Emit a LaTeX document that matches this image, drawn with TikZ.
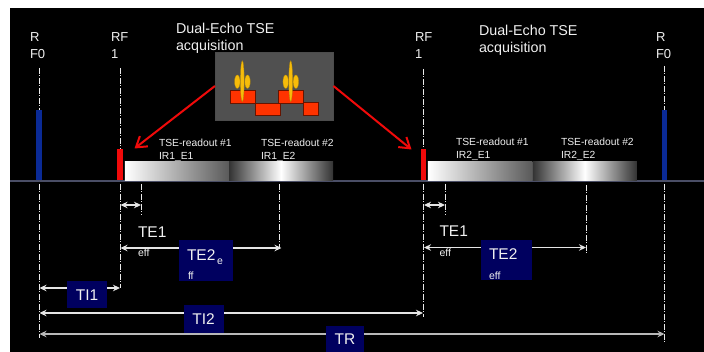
\documentclass[tikz,border=0pt]{standalone}
\usepackage{fontspec}
\setmainfont{Liberation Sans}
\usetikzlibrary{arrows.meta,shapes.geometric}
\definecolor{navy}{HTML}{00005F}
\definecolor{axisc}{HTML}{4A4E66}
\definecolor{barblue}{HTML}{0A2A96}
\definecolor{barred}{HTML}{F00A0A}
\definecolor{seqred}{HTML}{FF3300}
\definecolor{seqyel}{HTML}{F7BC0A}
\definecolor{panel}{HTML}{505050}
\definecolor{txt}{HTML}{F0F0F0}
\tikzset{
  every node/.style={inner sep=0pt,outer sep=0pt},
  rflabel/.style={text=txt,anchor=north west,align=left,font=\fontsize{13}{16.5}\selectfont},
  headlabel/.style={text=txt,anchor=north west,align=left,font=\fontsize{14.3}{17}\selectfont},
  readlabel/.style={text=txt,anchor=north west,align=left,font=\fontsize{10.3}{13}\selectfont},
  bigte/.style={text=txt,anchor=west,font=\fontsize{15.5}{16}\selectfont},
  small/.style={text=txt,anchor=west,font=\fontsize{10.5}{10}\selectfont},
  navybox/.style={fill=navy,text=txt,font=\fontsize{15.5}{16}\selectfont},
  ddline/.style={white!92!black,line width=0.7pt,dash pattern=on 6pt off 1.5pt on 1pt off 1.5pt},
  span/.style={white!90!black,line width=1.2pt,{Stealth[length=7pt,width=6.5pt]}-{Stealth[length=7pt,width=6.5pt]}},
  spangray/.style={span,white!72!black},
  redarrow/.style={draw=barred,line width=2pt,-{Straight Barb[length=10pt,width=13pt,line width=2pt]}},
  bar/.style={minimum width=5.5pt},
  seqblock/.style={fill=seqred,draw=black!60!seqred,line width=0.8pt},
  yel/.style={fill=seqyel,draw=seqyel!70!black,line width=0.3pt},
  ramp/.style={minimum height=18.5pt,minimum width=104.5pt,left color=white,right color=black!65},
  hump/.style={minimum height=18.5pt,minimum width=104pt,left color=black!80,right color=black!80,middle color=white}
}
\begin{document}
\begin{tikzpicture}[x=1pt,y=-1pt]
\useasboundingbox (0,0) rectangle (704,352);
\fill[white] (0,0) rectangle (704,352);
\fill[black] (10,8) rectangle (704,352);

% dash-dot guides
\coordinate (g1a) at (39,68);   \coordinate (g1b) at (39,110);
\coordinate (g1c) at (39,184);  \coordinate (g1d) at (39,338);
\coordinate (g2a) at (120,68);  \coordinate (g2b) at (120,149);
\coordinate (g2c) at (120,184); \coordinate (g2d) at (120,288);
\coordinate (g3c) at (141,184); \coordinate (g3d) at (141,215);
\coordinate (g4c) at (279.5,184); \coordinate (g4d) at (279.5,247);
\coordinate (g5a) at (423.5,69); \coordinate (g5b) at (423.5,149);
\coordinate (g5c) at (423.5,184); \coordinate (g5d) at (423.5,317);
\coordinate (g6c) at (445,184); \coordinate (g6d) at (445,215);
\coordinate (g7c) at (586,185); \coordinate (g7d) at (586,255);
\coordinate (g8a) at (664.5,66); \coordinate (g8b) at (664.5,110);
\coordinate (g8c) at (664.5,184); \coordinate (g8d) at (664.5,343);
\foreach \a/\b in {g1a/g1b,g1c/g1d,g2a/g2b,g2c/g2d,g3c/g3d,g4c/g4d,g5a/g5b,g5c/g5d,g6c/g6d,g7c/g7d,g8a/g8b,g8c/g8d}
  \draw[ddline] (\a) -- (\b);

% labels above the axis
\node[rflabel] (rf0l) at (30,33) {R\\F0};
\node[rflabel] (rf1l) at (111,33) {RF\\1};
\node[rflabel] (rf1r) at (415,33) {RF\\1};
\node[rflabel] (rf0r) at (656,33) {R\\F0};
\node[headlabel] (headl) at (176,23) {Dual-Echo TSE\\acquisition};
\node[headlabel] (headr) at (479,25.5) {Dual-Echo TSE\\acquisition};
\node[readlabel] (r11) at (159,139.5) {TSE-readout \#1\\IR1\_E1};
\node[readlabel] (r12) at (261,139.5) {TSE-readout \#2\\IR1\_E2};
\node[readlabel] (r21) at (456,138.5) {TSE-readout \#1\\IR2\_E1};
\node[readlabel] (r22) at (561,138.5) {TSE-readout \#2\\IR2\_E2};

% axis, bars, readouts
\coordinate (axl) at (10,181); \coordinate (axr) at (704,181);
\draw[axisc,line width=1.5pt] (axl) -- (axr);
\node[bar,minimum height=70pt,fill=barblue] (b1) at (39,145) {};
\node[bar,minimum height=70pt,fill=barblue] (b2) at (664.7,145) {};
\node[bar,minimum height=31pt,fill=barred] (r1) at (120.2,164.5) {};
\node[bar,minimum height=31pt,fill=barred] (r2) at (423.3,164.5) {};
\node[ramp] (m1) at (177.2,171.2) {};
\node[hump] (m2) at (281,171.2) {};
\node[ramp] (m3) at (480.2,171.2) {};
\node[hump] (m4) at (584.8,171.2) {};

% sequence panel
\node[fill=panel,draw=black!70,line width=0.5pt,minimum width=118.5pt,minimum height=68.5pt] (panel) at (274.2,86.2) {};
\node[seqblock,minimum width=25pt,minimum height=12.5pt] (s1) at (243,97) {};
\node[seqblock,minimum width=25pt,minimum height=12.5pt] (s2) at (267.7,109.5) {};
\node[seqblock,minimum width=25pt,minimum height=12.5pt] (s3) at (291.2,97) {};
\node[seqblock,minimum width=14.5pt,minimum height=13pt] (s4) at (310.8,109) {};
\foreach \n/\x in {a/242.3,b/290.7}{
  \node[yel,ellipse,minimum width=3.8pt,minimum height=41pt] (t\n) at (\x,81.2) {};
  \node[yel,ellipse,minimum width=5.5pt,minimum height=13.5pt] (u\n) at (\x-5,81.7) {};
  \node[yel,ellipse,minimum width=5.5pt,minimum height=13.5pt] (v\n) at (\x+5.2,81.7) {};
}

% red arrows
\coordinate (al) at (134.5,148.5);
\coordinate (ar) at (411.5,149.5);
\coordinate (lev) at (0,86);
\draw[redarrow] (panel.west |- lev) -- (al);
\draw[redarrow] (panel.east |- lev) -- (ar);

% span arrows
\coordinate (t1a) at (120.5,205); \coordinate (t1b) at (141,205);
\coordinate (t2a) at (120.5,248); \coordinate (t2b) at (281.5,248);
\coordinate (i1a) at (39.5,288);  \coordinate (i1b) at (120,288);
\coordinate (i2a) at (39.5,313);  \coordinate (i2b) at (423,313);
\coordinate (tra) at (39.5,334);  \coordinate (trb) at (664.5,334);
\coordinate (t3a) at (424,205);   \coordinate (t3b) at (445,205);
\coordinate (t4a) at (424,247.5); \coordinate (t4b) at (586,247.5);
\foreach \a/\b in {t1a/t1b,t2a/t2b,i1a/i1b,i2a/i2b,t3a/t3b,t4a/t4b}
  \draw[span] (\a) -- (\b);
\draw[spangray] (tra) -- (trb);

% navy boxes
\node[navybox,minimum width=54pt,minimum height=40.5pt] (te2l) at (206,260.7) {};
\node[navybox,minimum width=51pt,minimum height=40pt] (te2r) at (506.5,260) {};
\node[navybox,minimum width=40pt,minimum height=27.5pt] (ti1) at (87,294.7) {TI1};
\node[navybox,minimum width=40pt,minimum height=28pt] (ti2) at (203.5,319) {TI2};
\node[navybox,minimum width=38pt,minimum height=26pt] (tr) at (345,339) {TR};

% TE labels
\node[bigte] (te1l) at (138,232) {TE1};
\node[small] (te1ls) at (138,252.5) {eff};
\node[bigte] (te1r) at (439.5,231) {TE1};
\node[small] (te1rs) at (439.5,252.5) {eff};
\node[bigte] (te2lt) at (187,255) {TE2};
\node[small] (te2le) at (217,262) {e};
\node[small] (te2lf) at (188,275.5) {ff};
\node[bigte] (te2rt) at (489,254) {TE2};
\node[small] (te2rs) at (489,275.5) {eff};
\end{tikzpicture}
\end{document}
